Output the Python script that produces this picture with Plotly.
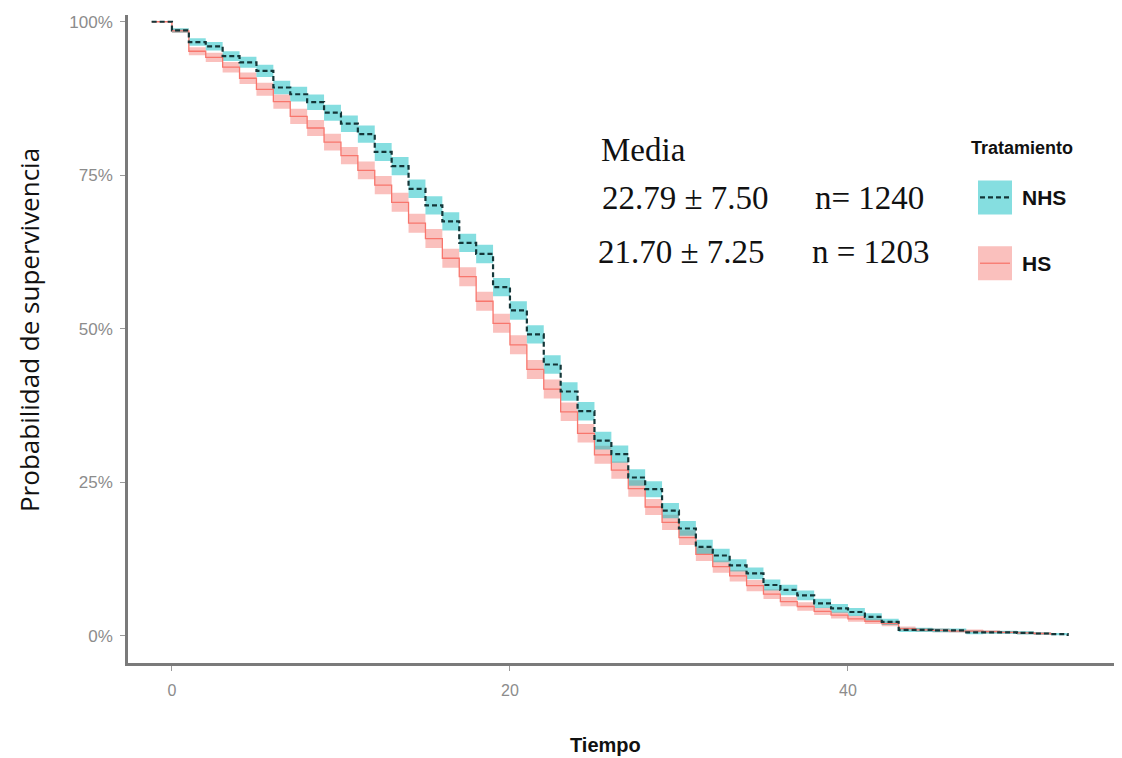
import plotly.graph_objects as go

# ---------------- data ----------------
nhs_time = [-1.2] + list(range(0, 54))
nhs_surv = [
    100, 98.6, 96.7, 96.0, 94.4, 93.4, 92.0, 89.3, 88.2, 86.9,
    85.2, 83.4, 81.7, 78.8, 76.5, 72.8, 70.1, 67.5, 64.0, 62.2,
    56.8, 53.0, 49.1, 44.2, 39.8, 36.6, 31.8, 29.6, 25.8, 23.9,
    20.4, 17.5, 14.5, 13.1, 11.5, 10.2, 8.3, 7.5, 6.6, 5.3,
    4.5, 3.9, 3.1, 2.3, 1.0, 1.0, 0.9, 0.9, 0.6, 0.6,
    0.6, 0.5, 0.4, 0.3, 0.0,
]
nhs_ci = [
    0.0, 0.35, 0.6, 0.7, 0.8, 0.9, 1.0, 1.1, 1.2, 1.25,
    1.3, 1.35, 1.4, 1.45, 1.5, 1.5, 1.5, 1.5, 1.5, 1.5,
    1.5, 1.5, 1.5, 1.5, 1.5, 1.5, 1.45, 1.4, 1.35, 1.3,
    1.25, 1.2, 1.15, 1.1, 1.0, 0.95, 0.9, 0.85, 0.8, 0.75,
    0.7, 0.65, 0.6, 0.5, 0.35, 0.35, 0.3, 0.3, 0.3, 0.25,
    0.25, 0.25, 0.2, 0.2, 0.0,
]

hs_time = [-1.2] + list(range(0, 53))
hs_surv = [
    100, 98.5, 95.2, 94.2, 92.6, 90.8, 89.0, 87.0, 84.6, 82.7,
    80.4, 78.2, 75.8, 73.4, 70.6, 67.2, 64.7, 61.5, 58.5, 54.5,
    50.9, 47.4, 43.4, 40.2, 36.5, 33.0, 29.5, 27.0, 24.0, 21.0,
    18.5, 16.0, 13.3, 11.3, 9.8, 8.2, 6.8, 5.6, 4.8, 4.0,
    3.4, 2.8, 2.4, 2.0, 1.2, 1.0, 0.9, 0.8, 0.8, 0.7,
    0.6, 0.5, 0.4, 0.2,
]
hs_ci = [
    0.0, 0.35, 0.65, 0.75, 0.85, 0.95, 1.05, 1.15, 1.25, 1.3,
    1.35, 1.4, 1.45, 1.5, 1.55, 1.55, 1.55, 1.55, 1.55, 1.55,
    1.55, 1.55, 1.55, 1.55, 1.5, 1.5, 1.45, 1.4, 1.35, 1.3,
    1.25, 1.2, 1.1, 1.0, 0.95, 0.9, 0.8, 0.75, 0.7, 0.6,
    0.55, 0.5, 0.45, 0.4, 0.35, 0.3, 0.3, 0.25, 0.25, 0.25,
    0.2, 0.2, 0.2, 0.0,
]

groups = ["NHS", "HS"]
y_ticks = [0, 0.25, 0.5, 0.75, 1.0]
x_ticks = [0, 20, 40]
stats_title = "Media"
stats_mean = ["22.79 \u00b1 7.50", "21.70 \u00b1 7.25"]
stats_n = ["n= 1240", "n = 1203"]

# ---------------- styling ----------------
TEAL = "#00BFC4"
RED = "#F8766D"
TEAL_FILL = "rgba(0,186,190,0.48)"
RED_FILL = "rgba(244,112,104,0.44)"
NHS_LINE = "#143638"

OFF = 8                      # page body margin (left / top)
W, H = 1122 - OFF, 758 - OFF
ML, MT = 128 - OFF, 13 - OFF
MR = W - (1115 - OFF)
MB = H - (663 - OFF)
PW, PH = W - ML - MR, H - MT - MB


def px_x(px):
    return (px - OFF - ML) / PW


def px_y(py):
    return (H - MB - (py - OFF)) / PH


fig = go.Figure()


def ribbon(t, s, ci, fill):
    lo = [(v - c) / 100 for v, c in zip(s, ci)]
    hi = [(v + c) / 100 for v, c in zip(s, ci)]
    fig.add_trace(go.Scatter(x=t, y=lo, mode="lines", line=dict(width=0, shape="hv"),
                             hoverinfo="skip", showlegend=False))
    fig.add_trace(go.Scatter(x=t, y=hi, mode="lines", line=dict(width=0, shape="hv"),
                             fill="tonexty", fillcolor=fill, hoverinfo="skip", showlegend=False))


ribbon(hs_time, hs_surv, hs_ci, RED_FILL)
ribbon(nhs_time, nhs_surv, nhs_ci, TEAL_FILL)

fig.add_trace(go.Scatter(x=hs_time, y=[v / 100 for v in hs_surv], mode="lines", name=groups[1],
                         line=dict(color=RED, width=1.3, shape="hv"), showlegend=False))
fig.add_trace(go.Scatter(x=nhs_time, y=[v / 100 for v in nhs_surv], mode="lines", name=groups[0],
                         line=dict(color=NHS_LINE, width=2.2, shape="hv", dash="5px,3px"),
                         showlegend=False))

axis_grey = "#7a7a7a"
tick_font = dict(family="Liberation Sans, Arial, sans-serif", size=16, color="#8c8c8c")

fig.update_xaxes(range=[-2.6, 55.8], tickvals=x_ticks, ticks="outside", ticklen=5,
                 tickcolor="#9a9a9a", tickwidth=1, showline=True, linecolor=axis_grey,
                 linewidth=2.5, showgrid=False, zeroline=False, tickfont=tick_font,
                 ticklabelstandoff=6)
fig.update_yaxes(range=[-0.044, 1.011], tickvals=y_ticks, tickformat=".0%", ticks="outside",
                 ticklen=5, tickcolor="#9a9a9a", tickwidth=1, showline=True,
                 linecolor=axis_grey, linewidth=2.5, showgrid=False, zeroline=False,
                 tickfont=dict(tick_font, size=17), ticklabelstandoff=4)

ann = []
# axis titles
ann.append(dict(text="Probabilidad de supervivencia", xref="paper", yref="paper",
                x=px_x(29), y=px_y(329), textangle=-90, showarrow=False,
                xanchor="center", yanchor="middle",
                font=dict(family="Open Sans, sans-serif", size=26, color="#111")))
ann.append(dict(text="<b>Tiempo</b>", xref="paper", yref="paper", x=px_x(605), y=px_y(745),
                xanchor="center", yanchor="middle", showarrow=False,
                font=dict(family="Liberation Sans, Arial", size=20, color="#111")))
# statistics text
serif = dict(family="Liberation Serif, Times New Roman, serif", size=33, color="#111")
ann.append(dict(text=stats_title, xref="paper", yref="paper", x=px_x(599), y=px_y(148),
                xanchor="left", yanchor="middle", showarrow=False, font=serif))
ann.append(dict(text=stats_mean[0], xref="paper", yref="paper", x=px_x(600), y=px_y(197),
                xanchor="left", yanchor="middle", showarrow=False, font=serif))
ann.append(dict(text=stats_n[0], xref="paper", yref="paper", x=px_x(813), y=px_y(197),
                xanchor="left", yanchor="middle", showarrow=False, font=serif))
ann.append(dict(text=stats_mean[1], xref="paper", yref="paper", x=px_x(596), y=px_y(251),
                xanchor="left", yanchor="middle", showarrow=False, font=serif))
ann.append(dict(text=stats_n[1], xref="paper", yref="paper", x=px_x(810), y=px_y(251),
                xanchor="left", yanchor="middle", showarrow=False, font=serif))
# legend (drawn manually to mimic ggplot keys)
leg_font = dict(family="Liberation Sans, Arial", size=21, color="#111")
ann.append(dict(text="<b>Tratamiento</b>", xref="paper", yref="paper", x=px_x(969), y=px_y(146),
                xanchor="left", yanchor="middle", showarrow=False,
                font=dict(family="Liberation Sans, Arial", size=18, color="#111")))
ann.append(dict(text="<b>" + groups[0] + "</b>", xref="paper", yref="paper", x=px_x(1020),
                y=px_y(196), xanchor="left", yanchor="middle", showarrow=False, font=leg_font))
ann.append(dict(text="<b>" + groups[1] + "</b>", xref="paper", yref="paper", x=px_x(1020),
                y=px_y(262), xanchor="left", yanchor="middle", showarrow=False, font=leg_font))

shapes = [
    dict(type="rect", xref="paper", yref="paper", x0=px_x(978), x1=px_x(1012),
         y0=px_y(213), y1=px_y(179), fillcolor=TEAL_FILL, line=dict(width=0)),
    dict(type="line", xref="paper", yref="paper", x0=px_x(980), x1=px_x(1010),
         y0=px_y(196), y1=px_y(196), line=dict(color=NHS_LINE, width=2.2, dash="5px,3px")),
    dict(type="rect", xref="paper", yref="paper", x0=px_x(978), x1=px_x(1012),
         y0=px_y(279), y1=px_y(245), fillcolor=RED_FILL, line=dict(width=0)),
    dict(type="line", xref="paper", yref="paper", x0=px_x(980), x1=px_x(1010),
         y0=px_y(262), y1=px_y(262), line=dict(color=RED, width=1.3)),
]

fig.update_layout(width=W, height=H, margin=dict(l=ML, r=MR, t=MT, b=MB),
                  plot_bgcolor="white", paper_bgcolor="white", showlegend=False,
                  annotations=ann, shapes=shapes)

fig.write_html("out.html")
